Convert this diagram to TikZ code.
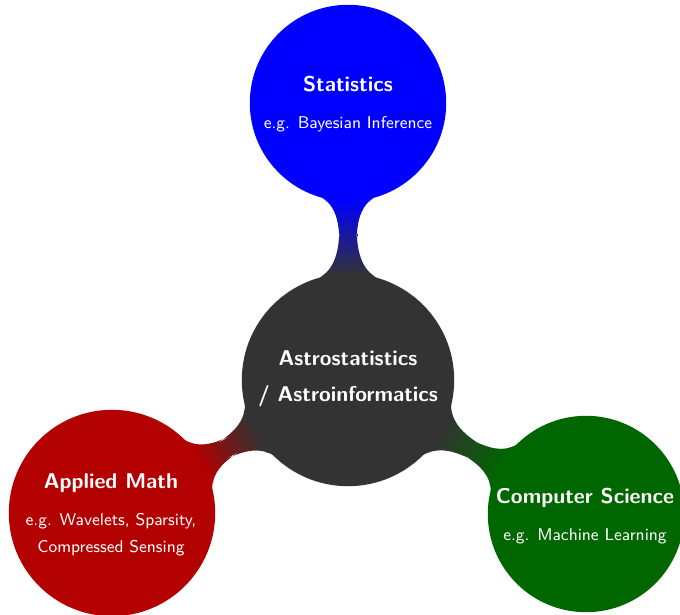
\documentclass[tikz,border=0pt]{standalone}
\usetikzlibrary{mindmap}
\definecolor{cdark}{HTML}{333333}
\definecolor{cblue}{HTML}{0000FF}
\definecolor{cred}{HTML}{B30000}
\definecolor{cgreen}{HTML}{006600}
\tikzset{
  bubble/.style={concept, minimum size=#1, text width=1pt, inner sep=0pt},
  ttl/.style={text=white, font=\sffamily\bfseries\fontsize{10.7}{12}\selectfont, inner sep=0pt, anchor=base},
  sbt/.style={text=white, font=\sffamily\fontsize{8.5}{10}\selectfont, inner sep=0pt, anchor=base},
}
\begin{document}
\begin{tikzpicture}[x=0.5pt,y=-0.5pt]
\useasboundingbox (0,0) rectangle (680,615);
\clip (0,0) rectangle (680,615);
\begin{scope}[mindmap]
\node[bubble=105pt, concept color=cdark] (c) at (348,380) {};
\node[bubble=97pt, concept color=cblue] (s) at (348,103) {};
\node[bubble=102pt, concept color=cred] (m) at (112,513) {};
\node[bubble=97pt, concept color=cgreen] (k) at (586,514) {};
\path (c) to[circle connection bar switch color=from (cdark) to (cblue)] (s);
\path (c) to[circle connection bar switch color=from (cdark) to (cred)] (m);
\path (c) to[circle connection bar switch color=from (cdark) to (cgreen)] (k);
\end{scope}
\node[ttl] (ct1) at (348,365) {Astrostatistics};
\node[ttl] (ct2) at (348,401) {/ Astroinformatics};
\node[ttl] (st) at (348,92) {Statistics};
\node[sbt] (ss) at (348,129) {e.g. Bayesian Inference};
\node[ttl] (mt) at (111,488) {Applied Math};
\node[sbt] (ms1) at (111,525) {e.g. Wavelets, Sparsity,};
\node[sbt] (ms2) at (111,552) {Compressed Sensing};
\node[ttl] (kt) at (585,503) {Computer Science};
\node[sbt] (ks) at (585,540) {e.g. Machine Learning};
\end{tikzpicture}
\end{document}
